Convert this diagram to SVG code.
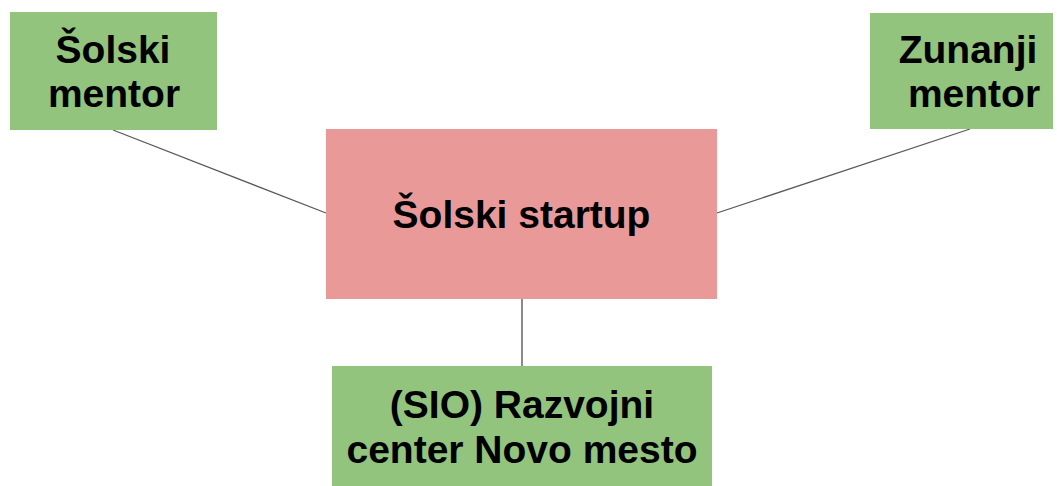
<svg xmlns="http://www.w3.org/2000/svg" width="1057" height="486" viewBox="0 0 1057 486">
<style>
.g{fill:#93c47d}
.p{fill:#ea9999}
.t{font-family:"Liberation Sans",Arial,sans-serif;font-weight:bold;font-size:39px;fill:#000;text-anchor:middle}
.c{stroke:#595959;stroke-width:1.3;fill:none}
</style>
<rect width="1057" height="486" fill="#fff"/>
<g id="connectors">
<line class="c" x1="113" y1="130" x2="326" y2="213"/>
<line class="c" x1="717" y1="213" x2="970" y2="129"/>
<line class="c" x1="522" y1="299" x2="522" y2="366" style="stroke:#8a8a8a;stroke-width:2"/>
</g>
<g id="solski-mentor">
<rect class="g" x="10" y="12" width="207" height="118"/>
<text class="t" x="113" y="63">Šolski</text>
<text class="t" x="114" y="107">mentor</text>
</g>
<g id="zunanji-mentor">
<rect class="g" x="870" y="13" width="183" height="116"/>
<text class="t" x="968" y="63">Zunanji</text>
<text class="t" x="974" y="107">mentor</text>
</g>
<g id="solski-startup">
<rect class="p" x="326" y="129" width="391" height="170"/>
<text class="t" x="521.5" y="228">Šolski startup</text>
</g>
<g id="razvojni-center">
<rect class="g" x="332" y="366" width="380" height="120"/>
<text class="t" x="522" y="418">(SIO) Razvojni</text>
<text class="t" x="522" y="463">center Novo mesto</text>
</g>
</svg>
